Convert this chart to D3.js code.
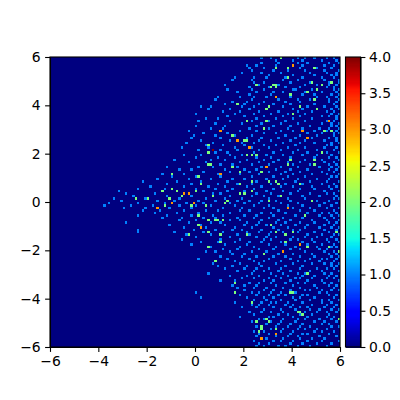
<!DOCTYPE html>
<html><head><meta charset="utf-8">
<script src="https://cdn.jsdelivr.net/npm/d3@7/dist/d3.min.js"></script>
<style>html,body{margin:0;padding:0;background:#fff}svg{display:block}
text{font-family:"DejaVu Sans",sans-serif;font-size:13.9px;fill:#000}</style></head><body>
<div id="chart"></div>
<script>
const binCount = 120;
const axisTicks = [-6,-4,-2,0,2,4,6];
const colorTicks = [0,0.5,1,1.5,2,2.5,3,3.5,4];
// Bins holding a count of 1: one list of x-bin indexes per y-bin, top row first.
const onesByRow = [
[87,91,102,105,109,114,117],
[93,100,104,112,118],
[87,94,102,106,115,119],
[81,85,93,104,113,117],
[82,88,93,103,110,116],
[83,92,98,105,113,119],
[79,87,95,107,114,118],
[90,100,109,116,118],
[76,84,89,97,104,112,117],
[75,83,96,102,113,119],
[84,88,99,107,115,119],
[72,86,94,105,110,115,118],
[82,90,97,103,114,117],
[73,83,88,100,101,108,117,119],
[77,85,92,96,105,112,118],
[82,91,104,109,116,119],
[69,78,84,89,99,110,114,118],
[68,83,94,102,107,115,119],
[75,81,88,97,103,115,118],
[72,80,86,92,99,109,117],
[62,66,79,84,96,106,113,118],
[65,74,82,89,100,104,116,119],
[71,78,86,94,102,108,114,117],
[60,76,84,91,98,105,116,119],
[73,80,88,96,103,112,115,118],
[64,69,85,93,100,108,118],
[61,74,83,90,97,105,114,117],
[68,79,87,95,102,112,116,119],
[60,72,85,92,99,107,116,118],
[66,71,82,90,98,104,111,115,119],
[57,78,85,95,100,109,114,118],
[63,73,88,93,106,112,117,119],
[59,68,76,83,97,103,110,117],
[58,70,81,87,94,101,108,115,118],
[62,74,86,91,99,105,113,118],
[56,67,79,84,96,103,109,116,119],
[64,71,80,88,93,101,114,116],
[54,65,76,83,90,98,105,113,118],
[61,70,77,86,95,102,110,117],
[68,73,84,92,100,106,114,119],
[55,62,74,79,89,96,104,110,116],
[60,69,76,85,91,99,109,115,118],
[51,66,72,81,88,94,105,112,119],
[57,64,78,86,92,98,103,113,117],
[70,75,83,90,100,107,115,118],
[48,61,67,77,87,95,102,111,116,119],
[53,58,72,80,85,93,99,106,115,118],
[63,74,82,90,97,103,112,117],
[46,55,69,78,86,95,100,108,114,119],
[50,60,70,83,92,98,105,116,118],
[44,57,66,75,80,89,96,102,110,115],
[38,52,62,73,85,93,101,107,114,119],
[48,58,69,77,83,91,97,104,112,117],
[41,55,65,72,81,87,95,100,108,115,118],
[36,47,60,68,75,84,92,103,109,116],
[28,52,63,73,80,89,96,102,113,119],
[31,43,57,67,70,78,85,91,99,107,114,117],
[34,48,58,74,83,88,94,104,111,118],
[26,39,53,64,72,79,90,98,105,117,119],
[29,44,51,61,68,77,82,87,93,99,110,115],
[24,36,47,56,63,74,80,86,95,102,113,118],
[22,33,42,53,60,66,76,84,90,98,104,111,116],
[30,39,49,58,71,79,88,92,100,107,114,119],
[38,45,55,64,69,78,82,94,103,109,117],
[43,52,61,74,87,91,97,106,112,115,118],
[36,48,58,67,71,80,85,92,101,111,116,119],
[46,54,63,68,77,84,90,96,104,113,117],
[53,60,74,78,87,94,99,108,114,119],
[31,57,66,70,81,86,93,97,103,109,115,118],
[49,62,72,80,85,89,95,101,106,113,117],
[55,64,76,83,92,98,105,111,116,119],
[36,59,68,75,79,87,94,100,103,113,118],
[36,51,63,71,81,86,91,96,102,109,115],
[56,66,77,82,90,97,106,112,117,119],
[60,74,85,89,93,100,105,110,116],
[54,70,78,88,91,99,102,108,114,118],
[62,69,76,82,87,95,104,109,115,119],
[58,72,81,90,97,106,112,117],
[66,78,84,93,101,110,116,118],
[71,77,86,92,99,103,111,114],
[64,68,74,83,89,96,105,113,117],
[75,80,88,94,100,108,115,118],
[70,79,85,92,97,103,109,116,119],
[61,73,82,90,99,107,112,114,118],
[76,84,88,95,102,105,111,117],
[67,78,86,93,100,108,113,116,119],
[69,75,81,87,97,104,116,118],
[72,80,85,90,95,103,110,114,117],
[77,84,88,94,99,107,112,119],
[65,83,91,96,102,105,113,116],
[74,81,86,93,98,104,109,115,118],
[79,84,90,95,101,103,108,114,117],
[70,76,88,92,99,106,112,119],
[82,86,91,97,102,105,113,116],
[75,80,85,93,100,109,115,118],
[77,84,89,96,103,110,117],
[80,88,92,99,105,107,112,116,119],
[60,83,86,91,95,101,111,114],
[78,85,90,94,97,104,106,115,118],
[62,81,88,92,100,103,109,117],
[84,89,95,101,107,112,115,119],
[76,87,91,93,98,104,112,116],
[83,86,90,97,100,108,114,118],
[79,85,92,99,103,106,113,117],
[88,95,101,107,111,116,119],
[82,87,91,96,105,110,114,118],
[84,94,98,103,108,115],
[78,90,92,100,106,114,117],
[86,88,96,102,105,111,116],
[83,91,95,101,109,113,118],
[89,94,99,104,112,115],
[85,87,93,98,103,107,116,119],
[91,96,102,105,110,114],
[84,88,95,100,109,112,117],
[86,90,99,104,106,115],
[85,93,98,102,111,118],
[87,89,96,103,108,113],
[84,92,95,100,106,112,119],
[86,90,99,104,110,116],
[85,88,94,97,102,107,114]
];
// Bins holding larger counts: [x-bin, y-bin], y-bin counted from the top.
const twos = [[95,0],[93,4],[98,4],[109,4],[116,10],[108,10],[112,11],[98,8],[85,11],[92,11],[93,11],[91,12],[93,12],[106,14],[110,13],[99,15],[109,17],[77,19],[90,20],[89,21],[103,20],[110,21],[100,23],[81,26],[89,26],[116,30],[113,30],[80,34],[81,34],[75,32],[65,36],[88,29],
[65,39],[81,40],[83,40],[85,40],[99,42],[109,42],[112,39],[65,44],[66,44],[75,45],[98,44],[109,44],[78,47],[87,47],[61,49],[62,52],[78,52],[83,51],[90,51],[93,51],[94,52],[103,52],[60,55],[83,55],[78,56],[80,56],[95,57],[67,57],[73,59],[90,59],[108,59],[58,61],[64,61],[72,60],[105,65],[61,65],[69,67],[71,67],[65,67],[91,69],[61,69],[65,72],[70,73],[81,73],[97,73],[93,72],[100,72],[118,72],[115,78],[106,78],[97,76],[70,76],[65,78],
[119,80],[88,81],[68,84],[106,89],[99,97],[100,97],[76,93],[76,97],[83,101],[102,105],[103,105],[104,106],[119,108],[89,108],[85,109],[90,109],[87,111],[87,112],[93,112],[86,113],
[46,55],[50,54],[49,58],[50,60],[40,58],[35,58],[47,61],[50,48],[60,55],[62,52],[66,44],[57,73],[68,67],[61,69],[52,55],[54,57]];
const threes = [[100,3],[93,16],[115,26],[104,30],[106,33],[82,37],[77,34],[70,30],[70,48],[98,62],[62,70],[103,77],[59,60],[89,45],[93,114],[87,116],[96,80],[55,56],[57,56],[44,62],[50,60]];
const fours = [[67,38]];

const margin = {left:50, top:57, size:290};
const x = d3.scaleLinear([-6,6],[margin.left,margin.left+margin.size]);
const y = d3.scaleLinear([-6,6],[margin.top+margin.size,margin.top]);
const color = v => d3.rgb(jet(v/4));
function jet(t){
  const f = (a)=>Math.max(0,Math.min(1,a));
  const r=f(t<0.35?0:t<0.66?(t-0.35)/0.31:t<0.89?1:1-(t-0.89)/0.11*0.5);
  const g=f(t<0.125?0:t<0.375?(t-0.125)/0.25:t<0.64?1:t<0.91?1-(t-0.64)/0.27:0);
  const b=f(t<0.11?0.5+t/0.11*0.5:t<0.34?1:t<0.65?1-(t-0.34)/0.31:0);
  return `rgb(${Math.round(r*255)},${Math.round(g*255)},${Math.round(b*255)})`;
}
const binWidth = 12/binCount;
const binX = i => -6 + i*binWidth;
const binY = j => 6 - j*binWidth;

const cells = new Map();
onesByRow.forEach((cols,j)=>cols.forEach(i=>cells.set(i+","+j,{i,j,v:1})));
twos.forEach(([i,j])=>cells.set(i+","+j,{i,j,v:2}));
threes.forEach(([i,j])=>cells.set(i+","+j,{i,j,v:3}));
fours.forEach(([i,j])=>cells.set(i+","+j,{i,j,v:4}));

const svg = d3.select("#chart").append("svg").attr("width",400).attr("height",400);
svg.append("rect").attr("x",x(-6)).attr("y",y(6)).attr("width",x(6)-x(-6)).attr("height",y(-6)-y(6)).attr("fill",color(0));
svg.append("g").attr("shape-rendering","crispEdges").selectAll("rect").data([...cells.values()]).join("rect")
  .attr("x",d=>x(binX(d.i))).attr("y",d=>y(binY(d.j)))
  .attr("width",x(binWidth)-x(0)).attr("height",y(0)-y(binWidth))
  .attr("fill",d=>color(d.v));

function style(g){
  g.selectAll("path.domain").attr("stroke","#000").attr("stroke-width",1.1);
  g.selectAll(".tick line").attr("stroke","#000").attr("stroke-width",1.1);
  g.selectAll(".tick text").attr("fill","#000").style("font-family",'"DejaVu Sans",sans-serif').style("font-size","13.9px");
}
svg.append("g").attr("transform",`translate(0,${margin.top+margin.size})`)
  .call(d3.axisBottom(x).tickValues(axisTicks).tickSize(4.9).tickPadding(4.5).tickSizeOuter(0)).call(style);
svg.append("g").attr("transform",`translate(${margin.left},0)`)
  .call(d3.axisLeft(y).tickValues(axisTicks).tickSize(4.9).tickPadding(4.5).tickSizeOuter(0)).call(style);
svg.append("rect").attr("x",x(-6)).attr("y",y(6)).attr("width",x(6)-x(-6)).attr("height",y(-6)-y(6))
  .attr("fill","none").attr("stroke","#000").attr("stroke-width",1.1);

// colorbar
const cbL = 345.5, cbW = 15;
const cy = d3.scaleLinear([0,4],[margin.top+margin.size,margin.top]);
const steps = d3.range(256);
svg.append("g").attr("shape-rendering","crispEdges").selectAll("rect").data(steps).join("rect")
  .attr("x",cbL).attr("width",cbW)
  .attr("y",s=>cy((s+1)/256*4)).attr("height",s=>cy(s/256*4)-cy((s+1)/256*4)+0.6)
  .attr("fill",s=>color((s+0.5)/256*4));
svg.append("g").attr("transform",`translate(${cbL+cbW},0)`)
  .call(d3.axisRight(cy).tickValues(colorTicks).tickFormat(d3.format(".1f")).tickSize(4.9).tickPadding(3.5).tickSizeOuter(0)).call(style);
svg.append("rect").attr("x",cbL).attr("y",cy(4)).attr("width",cbW).attr("height",cy(0)-cy(4))
  .attr("fill","none").attr("stroke","#000").attr("stroke-width",1.1);
</script></body></html>
